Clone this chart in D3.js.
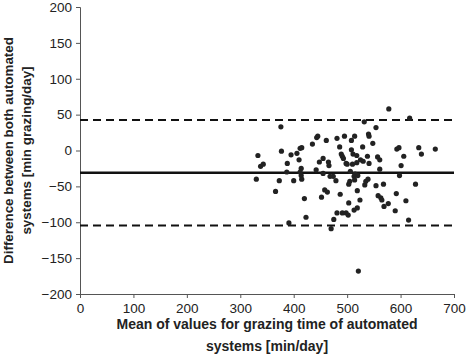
<!DOCTYPE html>
<html>
<head>
<meta charset="utf-8">
<script src="https://cdn.jsdelivr.net/npm/d3@7"></script>
<style>
  body { margin: 0; background: #fff; }
  text { font-family: "Liberation Sans", Arial, sans-serif; fill: #222; }
</style>
</head>
<body>
<div id="chart"></div>
<script>
// mean of both systems (x) and difference between them (y)
var meanValues = [330, 333, 338, 343, 366, 373, 376, 377, 388, 387, 395, 391, 400, 406, 410, 412, 415, 414, 412, 414,
  415, 420, 423, 435, 442, 443, 445, 448, 452, 455, 455, 458, 461, 463, 465, 466, 468, 470, 475, 474,
  479, 481, 481, 486, 487, 489, 491, 491, 493, 495, 498, 498, 500, 502, 503, 503, 505, 506, 508, 508,
  510, 511, 513, 513, 514, 514, 515, 518, 518, 519, 519, 520, 521, 524, 525, 529, 530, 532, 533, 535,
  538, 540, 541, 541, 539, 548, 554, 554, 557, 558, 561, 561, 563, 565, 568, 569, 577, 578, 590, 592,
  593, 597, 598, 601, 606, 610, 615, 617, 628, 634, 639, 665];
var diffValues = [-40, -7, -22, -19, -57, -42, 33, -1, -18, -30, -6, -101, -42, -4, -13, 3, 4, -25, -30, -35,
  -40, -67, -93, 9, -27, 18, 20, -16, -65, -11, -32, -55, 14, -58, -16, -21, -36, -109, -96, -36,
  -42, 17, -87, 5, -61, -5, -87, -8, -11, 20, -87, -18, -19, -90, -73, -47, -43, -29, 14, 1,
  -19, -5, -83, -36, -41, 20, -33, -17, -7, -56, -80, -35, -168, -69, -13, 5, -15, 40, -48, -43,
  -8, 23, 20, -18, -40, 10, 32, -49, -9, -63, -26, -13, -66, -69, -47, -78, -74, 58, -84, -60,
  2, 4, -35, -21, -8, -70, -97, 45, -47, 4, -5, 2];

var meanDiff = -31;
var upperLimit = 42.5;
var lowerLimit = -104.5;

var xTicks = [0, 100, 200, 300, 400, 500, 600, 700];
var yTicks = [-200, -150, -100, -50, 0, 50, 100, 150, 200];

var points = meanValues.map(function (d, i) { return { "x": d, "y": diffValues[i] }; });

const margin = { top: 7, right: 12, bottom: 62, left: 80 },
    width = 466 - margin.left - margin.right,
    height = 356 - margin.top - margin.bottom;

const svg = d3.select("#chart")
    .append("svg")
    .attr("width", 466)
    .attr("height", 356)
    .append("g")
    .attr("transform", `translate(${margin.left}, ${margin.top})`);

var x = d3.scaleLinear().domain([0, 700]).range([0, width]);
var y = d3.scaleLinear().domain([-200, 200]).range([height, 0]);

// axes
var xAxis = svg.append("g")
    .attr("transform", "translate(0," + height + ")")
    .call(d3.axisBottom(x).tickValues(xTicks).tickSize(4).tickPadding(5));

var yAxis = svg.append("g")
    .call(d3.axisLeft(y).tickValues(yTicks).tickSize(4).tickPadding(4));

[xAxis, yAxis].forEach(function (a) {
    a.selectAll("path, line").attr("stroke", "#555").attr("stroke-width", 1);
    a.selectAll("text").style("font-size", "13.5px").attr("fill", "#222");
});

// limits of agreement and mean difference
svg.selectAll(".limit")
    .data([upperLimit, lowerLimit])
    .enter().append("line")
    .attr("x1", x(0)).attr("x2", x(700))
    .attr("y1", d => y(d)).attr("y2", d => y(d))
    .attr("stroke", "#111")
    .attr("stroke-width", 1.8)
    .attr("stroke-dasharray", "8,5");

svg.append("line")
    .attr("x1", x(0)).attr("x2", x(700))
    .attr("y1", y(meanDiff)).attr("y2", y(meanDiff))
    .attr("stroke", "#111")
    .attr("stroke-width", 2.6);

// points
svg.selectAll(".dot")
    .data(points)
    .enter().append("circle")
    .attr("cx", d => x(d.x))
    .attr("cy", d => y(d.y))
    .attr("r", 2.6)
    .attr("fill", "#222");

// axis titles
var xTitle = svg.append("text")
    .attr("text-anchor", "middle")
    .style("font-size", "14px")
    .style("font-weight", "bold");
xTitle.append("tspan").attr("x", width / 2).attr("y", height + 35).text("Mean of values for grazing time of automated");
xTitle.append("tspan").attr("x", width / 2).attr("y", height + 57).text("systems [min/day]");

var yTitle = svg.append("text")
    .attr("transform", "rotate(-90)")
    .attr("text-anchor", "middle")
    .style("font-size", "13.4px")
    .style("font-weight", "bold");
yTitle.append("tspan").attr("x", -height / 2).attr("y", -margin.left + 12.5).text("Difference between both automated");
yTitle.append("tspan").attr("x", -height / 2).attr("y", -margin.left + 30.5).text("systems [min grazing/day]");
</script>
</body>
</html>
